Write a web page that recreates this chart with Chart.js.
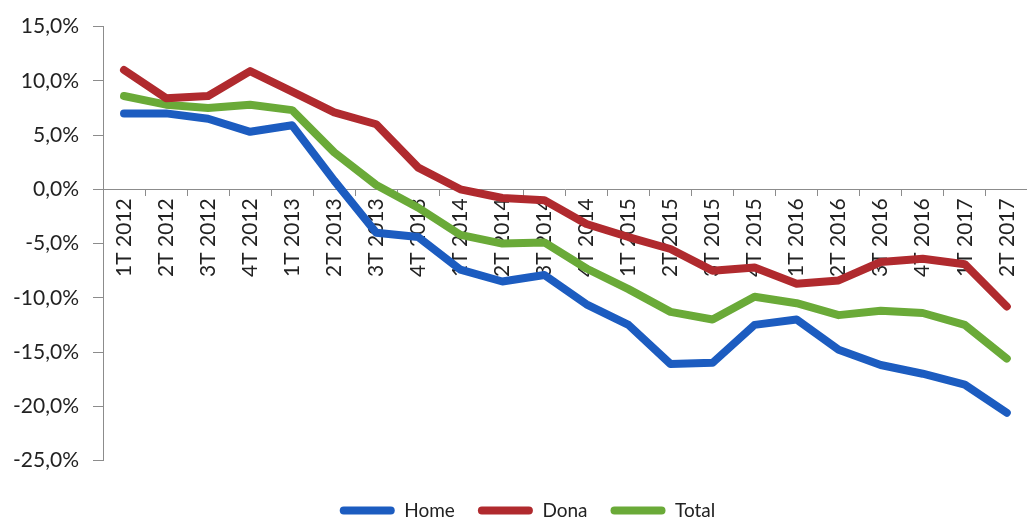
<!DOCTYPE html>
<html>
<head>
<meta charset="utf-8">
<script src="https://cdn.jsdelivr.net/npm/chart.js@4/dist/chart.umd.min.js"></script>
<style>
  html, body { margin: 0; padding: 0; background: #fff; overflow: hidden; }
  #wrap { width: 1035px; height: 530px; position: relative; }
</style>
</head>
<body>
<div id="wrap"><canvas id="grafic"></canvas></div>
<script>
// trimestres
const labelsTrim = ['1T 2012', '2T 2012', '3T 2012', '4T 2012', '1T 2013', '2T 2013', '3T 2013', '4T 2013',
  '1T 2014', '2T 2014', '3T 2014', '4T 2014', '1T 2015', '2T 2015', '3T 2015', '4T 2015',
  '1T 2016', '2T 2016', '3T 2016', '4T 2016', '1T 2017', '2T 2017'];

const valuesHome = [7.0, 7.0, 6.5, 5.3, 5.9, 0.8, -4.0, -4.4, -7.4, -8.5, -7.9, -10.6,
  -12.5, -16.1, -16.0, -12.5, -12.0, -14.8, -16.2, -17.0, -18.0, -20.6];
const valuesDona = [11.0, 8.4, 8.6, 10.9, 9.0, 7.1, 6.0, 2.0, 0.0, -0.8, -1.0, -3.2,
  -4.4, -5.5, -7.5, -7.2, -8.7, -8.4, -6.7, -6.4, -6.9, -10.8];
const valuesTotal = [8.6, 7.8, 7.5, 7.8, 7.3, 3.4, 0.4, -1.7, -4.2, -5.0, -4.9, -7.3,
  -9.2, -11.3, -12.0, -9.9, -10.5, -11.6, -11.2, -11.4, -12.5, -15.6];

const yMin = -25, yMax = 15, yStep = 5;

const FONT = 'Lato, "Open Sans", sans-serif';

function serie(label, data, color) {
  return {
    label: label,
    data: data,
    borderColor: color,
    backgroundColor: color,
    borderWidth: 8,
    tension: 0,
    pointRadius: 0,
    pointHoverRadius: 0,
    borderJoinStyle: 'round',
    borderCapStyle: 'round'
  };
}

// la llegenda original esta una mica desplaçada a la dreta
const moureLlegenda = {
  id: 'moureLlegenda',
  afterLayout: function (chart) {
    if (chart.legend) {
      chart.legend.left += 10;
      chart.legend.right += 10;
    }
  }
};

new Chart(document.getElementById('grafic'), {
  type: 'line',
  data: {
    labels: labelsTrim,
    datasets: [
      serie('Home', valuesHome, '#1c5cc0'),
      serie('Dona', valuesDona, '#b02a2e'),
      serie('Total', valuesTotal, '#6aaa38')
    ]
  },
  plugins: [moureLlegenda],
  options: {
    responsive: true,
    maintainAspectRatio: false,
    animation: false,
    layout: { padding: { top: 23, left: 0, right: 0, bottom: 0 } },
    scales: {
      x: {
        position: { y: 0 },
        offset: true,
        grid: {
          offset: true,
          drawOnChartArea: false,
          drawTicks: true,
          tickLength: 6,
          color: '#8c8c8c'
        },
        border: { display: true, color: '#8c8c8c', width: 1 },
        ticks: {
          autoSkip: false,
          minRotation: 90,
          maxRotation: 90,
          padding: 3,
          color: '#222',
          font: { family: FONT, size: 21 }
        }
      },
      y: {
        min: yMin,
        max: yMax,
        afterFit: function (scale) { scale.width = 103; },
        grid: {
          drawOnChartArea: false,
          drawTicks: true,
          tickLength: 10,
          color: '#8c8c8c'
        },
        border: { display: true, color: '#8c8c8c', width: 1 },
        ticks: {
          stepSize: yStep,
          padding: 14,
          color: '#222',
          font: { family: FONT, size: 21 },
          callback: function (v) { return v.toFixed(1).replace('.', ',') + '%'; }
        }
      }
    },
    plugins: {
      tooltip: { enabled: false },
      legend: {
        position: 'bottom',
        title: { display: true, text: '', font: { size: 10 }, padding: { top: 0, bottom: 5.5 } },
        labels: {
          boxWidth: 55,
          boxHeight: 8,
          padding: 23,
          useBorderRadius: true,
          borderRadius: 4,
          color: '#222',
          font: { family: FONT, size: 19 },
          generateLabels: function (chart) {
            const items = Chart.defaults.plugins.legend.labels.generateLabels(chart);
            items.forEach(function (it) { it.lineWidth = 0; it.borderRadius = 4; });
            return items;
          }
        }
      }
    }
  }
});
</script>
</body>
</html>
